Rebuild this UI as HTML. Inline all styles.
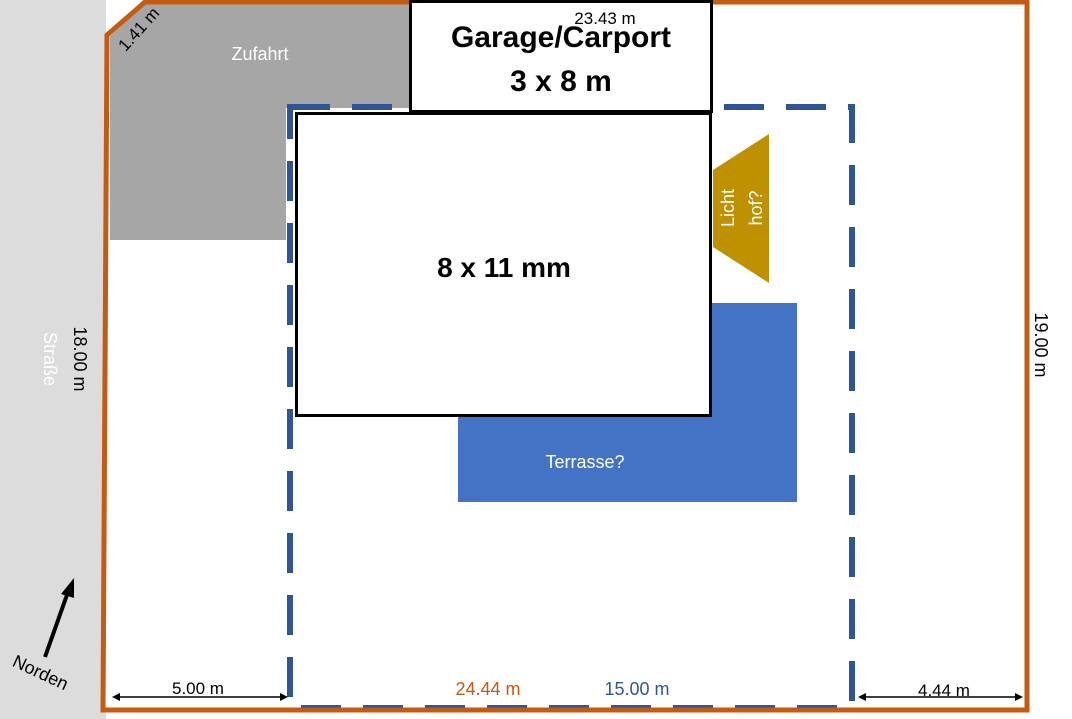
<!DOCTYPE html>
<html><head><meta charset="utf-8"><style>
html,body{margin:0;padding:0;background:#fff;}
svg{display:block;font-family:"Liberation Sans",sans-serif;}
</style></head><body>
<svg width="1072" height="719" viewBox="0 0 1072 719">
<rect x="0" y="0" width="106" height="719" fill="#dcdcdc"/>
<polygon points="109,35 145,2 1027,2 1027,710 103,710" fill="#fff"/>
<polygon points="110,36 146,4 410,4 410,108 286,108 286,240 110,240" fill="#a6a6a6"/>
<rect x="458" y="303" width="339" height="199" fill="#4472c4"/>
<polygon points="713,170 769,134 769,283 713,247" fill="#bf9000"/>
<rect x="290" y="107" width="562" height="601" fill="none" stroke="#2f5597" stroke-width="6" stroke-dasharray="40,22"/>
<polygon points="107,35 145,2 1027,2 1027,710 103,710" fill="none" stroke="#c55a11" stroke-width="5"/>
<rect x="290" y="707" width="562" height="0" stroke="#2f5597" stroke-width="5" stroke-dasharray="24,12"/>
<rect x="410.5" y="1.5" width="301" height="110" fill="#fff" stroke="#000" stroke-width="3"/>
<rect x="296.5" y="113.5" width="414" height="302" fill="#fff" stroke="#000" stroke-width="3"/>
<text x="605" y="24" font-size="17" text-anchor="middle">23.43 m</text>
<text x="561" y="47" font-size="30" font-weight="bold" text-anchor="middle">Garage/Carport</text>
<text x="561" y="91" font-size="30" font-weight="bold" text-anchor="middle">3 x 8 m</text>
<text x="504" y="277" font-size="28" font-weight="bold" text-anchor="middle">8 x 11 mm</text>
<text x="260" y="60" font-size="18" fill="#fff" text-anchor="middle">Zufahrt</text>
<text x="585" y="468" font-size="18" fill="#fff" text-anchor="middle">Terrasse?</text>
<text transform="translate(734,208) rotate(-90)" font-size="18" fill="#fff" text-anchor="middle">Licht</text>
<text transform="translate(762,208) rotate(-90)" font-size="18" fill="#fff" text-anchor="middle">hof?</text>
<text transform="translate(143,33) rotate(-48)" font-size="17" text-anchor="middle">1.41 m</text>
<text transform="translate(74,359) rotate(90)" font-size="18" text-anchor="middle">18.00 m</text>
<text transform="translate(44,359) rotate(90)" font-size="18" fill="#fff" text-anchor="middle">Straße</text>
<text transform="translate(1035,345) rotate(90)" font-size="18" text-anchor="middle">19.00 m</text>
<line x1="45" y1="657" x2="68" y2="592" stroke="#000" stroke-width="4"/>
<polygon points="74,578 74,598 61,594" fill="#000"/>
<text transform="translate(38,678) rotate(25)" font-size="18" text-anchor="middle">Norden</text>
<line x1="116" y1="697" x2="284" y2="697" stroke="#000" stroke-width="1.5"/>
<polygon points="112,697 120,693 120,701" fill="#000"/><polygon points="288,697 280,693 280,701" fill="#000"/>
<text x="198" y="694" font-size="17" text-anchor="middle">5.00 m</text>
<line x1="862" y1="697" x2="1019" y2="697" stroke="#000" stroke-width="1.5"/>
<polygon points="858,697 866,693 866,701" fill="#000"/><polygon points="1023,697 1015,693 1015,701" fill="#000"/>
<text x="944" y="696" font-size="17" text-anchor="middle">4.44 m</text>
<text x="488" y="695" font-size="18" fill="#c55a11" text-anchor="middle">24.44 m</text>
<text x="637" y="695" font-size="18" fill="#2f5597" text-anchor="middle">15.00 m</text>
</svg>
</body></html>
